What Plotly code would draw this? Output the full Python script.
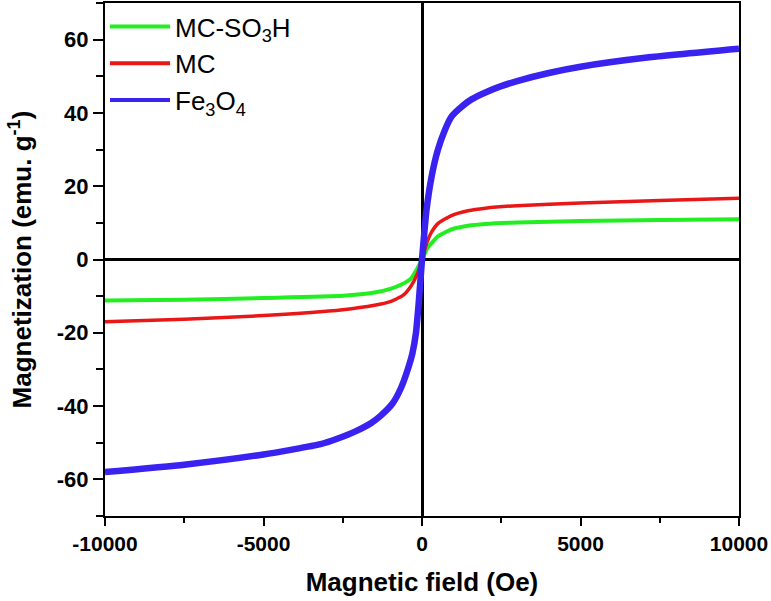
import plotly.graph_objects as go

# Fe3O4
fe3o4_field = [-10000, -7500, -5000, -3200, -2700, -2100, -1600, -1300, -930, -670, -450, -300, -190, -100, 0,
               70, 140, 300, 500, 720, 930, 1250, 1560, 2000, 2500, 3000, 4000, 5000, 7100, 10000]
fe3o4 = [-58.0, -56.0, -53.2, -50.4, -49.0, -46.9, -44.6, -42.6, -39.3, -35.2, -30.0, -25.5, -20.0, -11.5, 0.0,
         7.0, 13.4, 22.5, 29.9, 35.3, 39.0, 41.7, 43.7, 45.6, 47.3, 48.7, 50.9, 52.6, 55.1, 57.5]

# MC
mc_field = [-10000, -7500, -5000, -2500, -1500, -1000, -600, -350, -150, 0,
            150, 290, 500, 930, 1450, 2000, 3000, 5000, 7500, 10000]
mc = [-17.0, -16.3, -15.3, -13.7, -12.5, -11.5, -9.8, -7.3, -4.0, 0.0,
      4.5, 7.3, 9.8, 12.0, 13.3, 14.0, 14.7, 15.4, 16.1, 16.7]

# MC-SO3H
mc_so3h_field = [-10000, -7500, -5000, -2500, -1500, -1000, -600, -350, -150, 0,
                 190, 290, 500, 930, 1450, 2000, 3000, 5000, 7500, 10000]
mc_so3h = [-11.2, -11.0, -10.5, -9.9, -9.0, -8.0, -6.6, -5.2, -2.5, 0.0,
           3.4, 4.3, 6.3, 8.2, 9.2, 9.7, 10.1, 10.5, 10.8, 11.0]

series_names = ["MC-SO<sub>3</sub>H", "MC", "Fe<sub>3</sub>O<sub>4</sub>"]
series_colors = ["#22EE22", "#E81818", "#3A22F0"]
x_ticks = [-10000, -5000, 0, 5000, 10000]
y_ticks = [-60, -40, -20, 0, 20, 40, 60]

FONT = "Arial, Liberation Sans, sans-serif"
SMOOTH = 0.5

fig = go.Figure()
data_sets = [(mc_so3h_field, mc_so3h, 4), (mc_field, mc, 3.5), (fe3o4_field, fe3o4, 6.5)]
for (xs, ys, w), name, col in zip(data_sets, series_names, series_colors):
    fig.add_trace(go.Scatter(x=xs, y=ys, mode="lines", name=name, legendgroup=name, showlegend=False,
                             line=dict(color=col, width=w, shape="spline", smoothing=SMOOTH)))
# legend entries with uniform line width
for name, col in zip(series_names, series_colors):
    fig.add_trace(go.Scatter(x=[None], y=[None], mode="lines", name=name, legendgroup=name,
                             showlegend=True, line=dict(color=col, width=4)))

fig.update_layout(
    width=771, height=601,
    margin=dict(l=105, r=32, t=3, b=85),
    paper_bgcolor="white", plot_bgcolor="white",
    font=dict(family=FONT, color="black"),
    showlegend=True,
    legend=dict(x=0.0, y=1.0, xanchor="left", yanchor="top",
                bgcolor="rgba(0,0,0,0)", font=dict(size=26, family=FONT, color="black"),
                tracegroupgap=0, itemwidth=60, borderwidth=0),
    xaxis=dict(
        range=[-10000, 10000], tickvals=x_ticks, ticktext=[str(v) for v in x_ticks],
        ticks="outside", ticklen=8, tickwidth=2, tickcolor="black",
        minor=dict(dtick=2500, ticks="outside", ticklen=5, tickwidth=2, tickcolor="black"),
        showline=True, linecolor="black", linewidth=2, mirror=True,
        showgrid=False, zeroline=True, zerolinecolor="black", zerolinewidth=2.5,
        tickfont=dict(size=21, family=FONT, weight="bold"),
        automargin=False,
        title=dict(text="Magnetic field (Oe)", font=dict(size=26, family=FONT, weight="bold"), standoff=19),
    ),
    yaxis=dict(
        range=[-70, 70], tickvals=y_ticks, ticktext=[str(v) for v in y_ticks],
        ticks="outside", ticklen=10, tickwidth=2, tickcolor="black",
        minor=dict(dtick=10, ticks="outside", ticklen=7, tickwidth=2, tickcolor="black"),
        showline=True, linecolor="black", linewidth=2, mirror=True,
        showgrid=False, zeroline=True, zerolinecolor="black", zerolinewidth=2.5,
        tickfont=dict(size=22, family=FONT, weight="bold"),
        automargin=False,
        title=dict(text="Magnetization (emu. g<sup>-1</sup>)", font=dict(size=26, family=FONT, weight="bold"), standoff=18),
    ),
)

fig.write_html("out.html", config={"displayModeBar": False},
               post_script="document.body.style.margin='0';")
